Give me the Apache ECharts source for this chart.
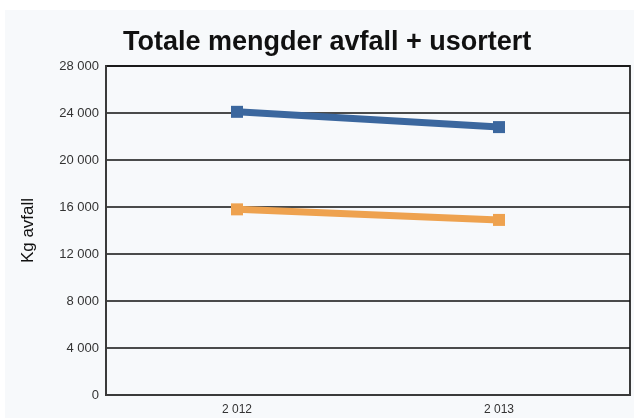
<!DOCTYPE html>
<html>
<head>
<meta charset="utf-8">
<script src="https://cdn.jsdelivr.net/npm/echarts@6/dist/echarts.min.js"></script>
<style>
  html, body { margin: 0; padding: 0; background: #ffffff; }
  #bg { position: absolute; left: 5px; top: 10px; width: 629px; height: 408px; background: #f7f9fb; }
  #chart { position: absolute; left: 0; top: 0; width: 634px; height: 418px; }
</style>
</head>
<body>
<div id="bg"></div>
<div id="chart"></div>
<script>
// data
var years = ['2012', '2013'];
var totalt = [24100, 22800];      // blå
var usortert = [15800, 14900];    // oransje
var yTicks = [0, 4000, 8000, 12000, 16000, 20000, 24000, 28000];

// tusenskille med mellomrom, som i originalen
function fmt(v) {
    return String(v).replace(/\B(?=(\d{3})+(?!\d))/g, ' ');
}

var myChart = echarts.init(document.getElementById('chart'), null, {renderer: 'canvas'});

var option = {
    backgroundColor: 'transparent',
    animation: false,
    title: {
        text: 'Totale mengder avfall + usortert',
        left: 118,
        top: 24,
        textStyle: {fontFamily: 'Liberation Sans, Arial', fontSize: 27, fontWeight: 'bold', color: '#111'}
    },
    grid: {
        left: 106, right: 4, top: 66, bottom: 23,
        show: true, borderColor: '#3a3a3a', borderWidth: 2, backgroundColor: 'transparent'
    },
    xAxis: {
        type: 'category',
        data: years,
        boundaryGap: true,
        axisLine: {show: true, lineStyle: {color: '#3a3a3a', width: 2}},
        axisTick: {show: false},
        axisLabel: {
            formatter: fmt, margin: 9, color: '#333',
            fontFamily: 'Liberation Sans, Arial', fontSize: 12
        }
    },
    yAxis: {
        type: 'value',
        min: yTicks[0],
        max: yTicks[yTicks.length - 1],
        interval: yTicks[1] - yTicks[0],
        name: 'Kg avfall',
        nameLocation: 'middle',
        nameGap: 69,
        nameTextStyle: {fontFamily: 'Liberation Sans, Arial', fontSize: 17, color: '#111'},
        axisLine: {show: true, lineStyle: {color: '#3a3a3a', width: 2}},
        axisTick: {show: false},
        splitLine: {show: true, lineStyle: {color: '#111', width: 1.5}},
        axisLabel: {
            formatter: fmt, margin: 7, color: '#333',
            fontFamily: 'Liberation Sans, Arial', fontSize: 13
        }
    },
    series: [
        {
            type: 'line', data: totalt,
            symbol: 'rect', symbolSize: 12,
            lineStyle: {color: '#3b679e', width: 7},
            itemStyle: {color: '#3b679e'}
        },
        {
            type: 'line', data: usortert,
            symbol: 'rect', symbolSize: 12,
            lineStyle: {color: '#eea24f', width: 7},
            itemStyle: {color: '#eea24f'}
        }
    ]
};
myChart.setOption(option);
</script>
</body>
</html>
